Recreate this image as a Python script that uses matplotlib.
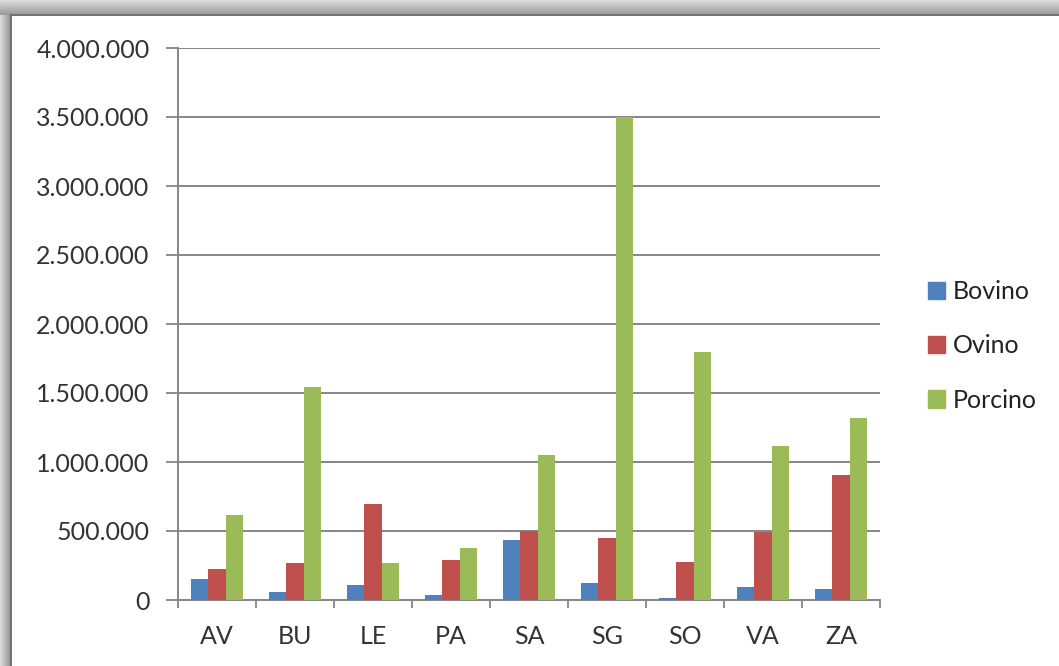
import numpy as np
import matplotlib
matplotlib.use("Agg")
import matplotlib.pyplot as plt
from matplotlib.ticker import FuncFormatter
from matplotlib.patches import Patch

# Cabezas de ganado por provincia
provincias = ["AV", "BU", "LE", "PA", "SA", "SG", "SO", "VA", "ZA"]
bovino = [149000, 55000, 109000, 33000, 437000, 120000, 12000, 96000, 77000]
ovino = [225000, 268000, 693000, 287000, 497000, 449000, 278000, 493000, 906000]
porcino = [618000, 1546000, 268000, 374000, 1053000, 3500000, 1797000, 1118000, 1319000]

series = [("Bovino", bovino, "#4F81BD"),
          ("Ovino", ovino, "#C0504D"),
          ("Porcino", porcino, "#9BBB59")]

plt.rcParams["font.family"] = ["Lato", "DejaVu Sans"]
fig = plt.figure(figsize=(10.59, 6.66), dpi=100)

# background: shadowed frame around the chart box
bg = fig.add_axes([0, 0, 1, 1])
bg.set_xlim(0, 1059)
bg.set_ylim(666, 0)
bg.axis("off")
img = np.ones((666, 1059))
top = np.linspace(0.86, 0.6, 15)
img[:15, :] = top[:, None]
left = np.linspace(0.86, 0.6, 10)
img[15:, :10] = left[None, :]
img[15:, 10:12] = 0.45
img[14:16, 10:] = 0.45
bg.imshow(img, cmap="gray", vmin=0, vmax=1, extent=(0, 1059, 666, 0), aspect="auto")

ax = fig.add_axes([178 / 1059, 1 - 600 / 666, (880 - 178) / 1059, (600 - 48) / 666])
ax.set_facecolor("none")

x = np.arange(len(provincias))
w = 1 / 4.5
for i, (name, vals, col) in enumerate(series):
    ax.bar(x + (i - 1) * w, vals, width=w, color=col, label=name, zorder=3)

ax.set_xlim(-0.5, len(provincias) - 0.5)
ax.set_ylim(0, 4000000)
ax.set_yticks(np.arange(0, 4000001, 500000))
ax.yaxis.set_major_formatter(FuncFormatter(lambda v, _: f"{int(v):,}".replace(",", ".")))
ax.set_xticks(x)
ax.set_xticklabels(provincias)
ax.set_xticks(np.arange(-0.5, len(provincias)), minor=True)
ax.tick_params(axis="x", which="major", length=0, pad=18, labelsize=18, colors="#333333")
ax.tick_params(axis="x", which="minor", length=6, width=1.3, color="#868686")
ax.tick_params(axis="y", length=8.5, width=1.3, color="#868686", pad=12,
               labelsize=18, labelcolor="#333333")
ax.grid(axis="y", color="#868686", lw=1.4, zorder=0)
for s in ("top", "right"):
    ax.spines[s].set_visible(False)
for s in ("left", "bottom"):
    ax.spines[s].set_color("#868686")
    ax.spines[s].set_linewidth(1.4)

handles = [Patch(color=c, label=n) for n, _, c in series]
fig.legend(handles=handles, loc="center left", bbox_to_anchor=(905 / 1059, 1 - 346 / 666),
           frameon=False, fontsize=18, handlelength=0.7, handleheight=0.7,
           handletextpad=0.3, labelspacing=1.25, labelcolor="#222222")

fig.savefig("out.png", dpi=100)
